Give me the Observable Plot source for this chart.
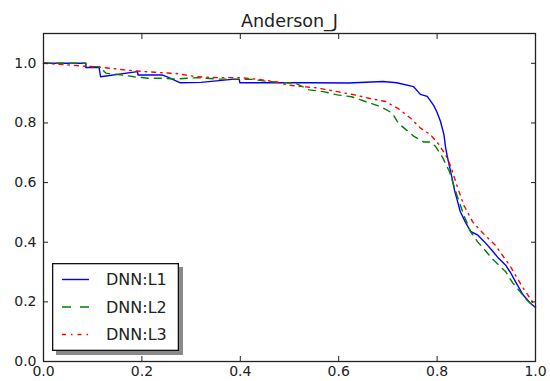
<!DOCTYPE html>
<html>
<head>
<meta charset="utf-8">
<script src="https://cdn.jsdelivr.net/npm/d3@7"></script>
<script src="https://cdn.jsdelivr.net/npm/@observablehq/plot@0.6"></script>
<style>
  body { margin: 0; background: #fff; }
  #wrap { position: relative; width: 550px; height: 381px; }
  #legend { position: absolute; }
</style>
</head>
<body>
<div id="wrap"></div>
<script>
const title = "Anderson_J";
const seriesNames = ["DNN:L1", "DNN:L2", "DNN:L3"];
const xTicks = [0, 0.2, 0.4, 0.6, 0.8, 1.0];
const yTicks = [0, 0.2, 0.4, 0.6, 0.8, 1.0];

const l1x = [0, 0.086, 0.086, 0.113, 0.116, 0.191, 0.192, 0.241, 0.255, 0.277, 0.32, 0.383, 0.398, 0.399, 0.46, 0.54, 0.62, 0.69, 0.718, 0.752, 0.761, 0.766, 0.78, 0.793, 0.8, 0.807, 0.814, 0.817, 0.82, 0.823, 0.829, 0.836, 0.84, 0.847, 0.857, 0.868, 0.882, 0.896, 0.911, 0.925, 0.939, 0.95, 0.961, 0.975, 0.989, 1.0];
const l1y = [1.0, 1.0, 0.986, 0.986, 0.955, 0.972, 0.961, 0.961, 0.952, 0.935, 0.936, 0.946, 0.946, 0.935, 0.935, 0.935, 0.934, 0.939, 0.935, 0.922, 0.905, 0.896, 0.889, 0.859, 0.835, 0.805, 0.76, 0.72, 0.694, 0.67, 0.626, 0.57, 0.547, 0.503, 0.469, 0.436, 0.425, 0.402, 0.374, 0.346, 0.324, 0.296, 0.263, 0.223, 0.196, 0.181];

const l2x = [0, 0.086, 0.086, 0.113, 0.127, 0.163, 0.184, 0.212, 0.241, 0.269, 0.312, 0.355, 0.398, 0.426, 0.455, 0.483, 0.512, 0.540, 0.569, 0.597, 0.626, 0.654, 0.685, 0.709, 0.719, 0.725, 0.753, 0.773, 0.787, 0.797, 0.81, 0.825, 0.840, 0.854, 0.868, 0.882, 0.897, 0.911, 0.925, 0.939, 0.954, 0.968, 0.982, 1.0];
const l2y = [1.0, 1.0, 0.989, 0.989, 0.967, 0.96, 0.955, 0.95, 0.95, 0.947, 0.952, 0.947, 0.947, 0.946, 0.939, 0.936, 0.933, 0.911, 0.905, 0.894, 0.888, 0.872, 0.855, 0.833, 0.805, 0.794, 0.755, 0.736, 0.736, 0.721, 0.688, 0.637, 0.559, 0.492, 0.436, 0.402, 0.374, 0.346, 0.324, 0.302, 0.263, 0.235, 0.207, 0.181];

const l3x = [0, 0.056, 0.086, 0.115, 0.148, 0.184, 0.226, 0.269, 0.312, 0.355, 0.398, 0.433, 0.469, 0.497, 0.526, 0.554, 0.597, 0.633, 0.661, 0.695, 0.722, 0.746, 0.766, 0.787, 0.804, 0.821, 0.829, 0.84, 0.854, 0.872, 0.89, 0.904, 0.918, 0.932, 0.947, 0.961, 0.975, 0.989, 1.0];
const l3y = [1.0, 0.994, 0.99, 0.987, 0.981, 0.975, 0.97, 0.966, 0.955, 0.952, 0.952, 0.947, 0.939, 0.927, 0.922, 0.918, 0.905, 0.894, 0.883, 0.872, 0.847, 0.816, 0.783, 0.76, 0.727, 0.682, 0.648, 0.592, 0.525, 0.469, 0.436, 0.413, 0.391, 0.358, 0.324, 0.285, 0.246, 0.212, 0.184];

const colors = ["#0000ff", "#008000", "#ff0000"];
const dashes = [null, "7,6", "4,5,1.5,5"];

const toRows = (xs, ys) => xs.map((x, i) => ({x, y: ys[i]}));
const series = [toRows(l1x, l1y), toRows(l2x, l2y), toRows(l3x, l3y)];

const font = "'DejaVu Sans', sans-serif";
const fmt = d3.format(".1f");

const chart = Plot.plot({
  width: 550,
  height: 381,
  marginLeft: 43,
  marginRight: 15,
  marginTop: 33,
  marginBottom: 20,
  style: {fontFamily: font, fontSize: "14px", color: "#222", background: "#fff"},
  x: {domain: [0, 1], axis: null},
  y: {domain: [0, 1.1], axis: null},
  marks: [
    ...series.map((d, i) => Plot.line(d, {x: "x", y: "y", stroke: colors[i], strokeWidth: 1.4, strokeDasharray: dashes[i]})),
    Plot.axisX(xTicks, {anchor: "bottom", tickSize: -5, tickFormat: () => "", stroke: "#222", label: null}),
    Plot.axisX(xTicks, {anchor: "top", tickSize: -5, tickFormat: () => "", stroke: "#222", label: null}),
    Plot.axisY(yTicks, {anchor: "left", tickSize: -5, tickFormat: () => "", stroke: "#222", label: null}),
    Plot.axisY(yTicks, {anchor: "right", tickSize: -5, tickFormat: () => "", stroke: "#222", label: null}),
    Plot.axisX(xTicks, {anchor: "bottom", tickSize: 0, tickPadding: 5, tickFormat: fmt, fill: "#222", fontSize: 14, label: null}),
    Plot.axisY(yTicks, {anchor: "left", tickSize: 0, tickPadding: 7, tickFormat: fmt, fill: "#222", fontSize: 14, label: null}),
    Plot.frame({stroke: "#222", strokeWidth: 1.3}),
    Plot.text([title], {frameAnchor: "top", lineAnchor: "bottom", dy: -7, fontSize: 17.5, fill: "#222"})
  ]
});

const wrap = document.getElementById("wrap");
wrap.appendChild(chart);

// legend box (lower left, with shadow)
const lg = document.createElement("div");
lg.id = "legend";
lg.style.left = "52px";
lg.style.top = "263px";
const LW = 127, LH = 88;
const ns = "http://www.w3.org/2000/svg";
const svg = document.createElementNS(ns, "svg");
svg.setAttribute("width", LW + 5);
svg.setAttribute("height", LH + 5);
svg.style.overflow = "visible";
const mk = (tag, attrs) => { const e = document.createElementNS(ns, tag); for (const k in attrs) e.setAttribute(k, attrs[k]); svg.appendChild(e); return e; };
mk("rect", {x: 4, y: 4, width: LW, height: LH, fill: "#8a8a8a"});
mk("rect", {x: 0.65, y: 0.65, width: LW - 1.3, height: LH - 1.3, fill: "#fff", stroke: "#111", "stroke-width": 1.3});
const rowY = [16.5, 44, 71.5];
const legendDash = [null, "9,9", "4,5,1.5,5"];
seriesNames.forEach((name, i) => {
  const ln = mk("line", {x1: 10, x2: 37, y1: rowY[i], y2: rowY[i], stroke: colors[i], "stroke-width": 1.4});
  if (legendDash[i]) ln.setAttribute("stroke-dasharray", legendDash[i]);
  const t = mk("text", {x: 54, y: rowY[i], dy: "0.36em", fill: "#222", "font-size": 16, "font-family": "DejaVu Sans, sans-serif"});
  t.textContent = name;
});
lg.appendChild(svg);
wrap.appendChild(lg);
</script>
</body>
</html>
